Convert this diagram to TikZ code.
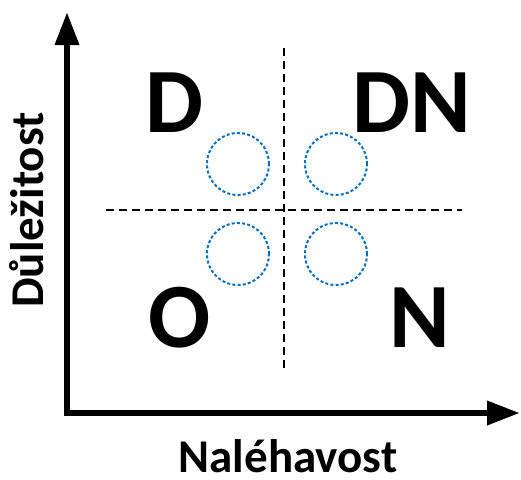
\documentclass[tikz,border=0pt]{standalone}
\usepackage{fontspec}
\setmainfont{Carlito}
\usetikzlibrary{arrows.meta}
\definecolor{dotblue}{HTML}{0070C0}
\tikzset{
  axis/.style={line width=6.5pt, line join=miter, {Triangle[length=33pt,width=23pt]}-{Triangle[length=33pt,width=23pt]}},
  divider/.style={line width=1.4pt, dash pattern=on 8pt off 5pt},
  spot/.style={draw=dotblue, line width=2pt, dash pattern=on 3pt off 2.2pt},
  quad/.style={font=\fontsize{92}{100}\selectfont\bfseries, anchor=base, inner sep=0pt},
  axlabel/.style={font=\fontsize{47}{54}\selectfont\bfseries, anchor=base, inner sep=0pt, text depth=0pt}
}
\begin{document}
\begin{tikzpicture}[x=1pt,y=-1pt]
\useasboundingbox (0,0) rectangle (521,479);
% axes
\coordinate (origin) at (67,413);
\coordinate (ytop) at (67,12);
\coordinate (xend) at (520,413);
\draw[axis] (ytop) -- (origin) -- (xend);
% quadrant dividers
\coordinate (vtop) at (284,48);
\coordinate (vbot) at (284,370);
\coordinate (hleft) at (106,210);
\coordinate (hright) at (462,210);
\draw[divider] (vtop) -- (vbot);
\draw[divider] (hleft) -- (hright);
% dotted circles
\node[spot, circle, minimum size=62pt] (c1) at (238,164) {};
\node[spot, circle, minimum size=62pt] (c2) at (336,164) {};
\node[spot, circle, minimum size=62pt] (c3) at (238,254) {};
\node[spot, circle, minimum size=62pt] (c4) at (336,254) {};
% quadrant letters
\node[quad] (qd) at (174,132) {D};
\node[quad] (qdn) at (412,132) {DN};
\node[quad] (qo) at (180,347) {O};
\node[quad] (qn) at (420,347) {N};
% axis labels
\node[axlabel] (xlab) at (288,472) {Naléhavost};
\node[axlabel, rotate=90] (ylab) at (43,210) {Důležitost};
\end{tikzpicture}
\end{document}
